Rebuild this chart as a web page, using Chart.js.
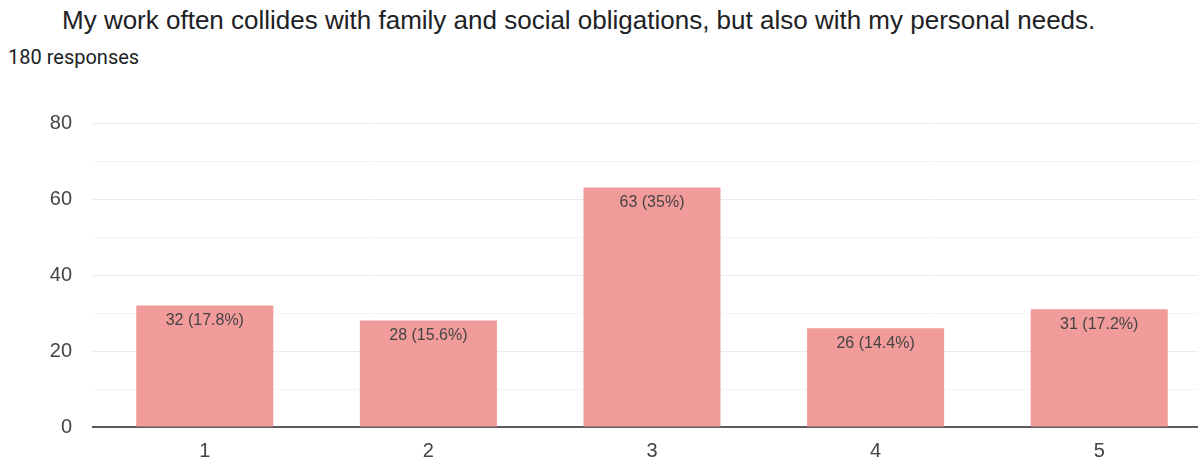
<!DOCTYPE html>
<html>
<head>
<meta charset="utf-8">
<script src="https://cdn.jsdelivr.net/npm/chart.js@4"></script>
<style>
  html, body { margin: 0; padding: 0; background: #fff; overflow: hidden; }
  .wrap { position: relative; width: 1198px; height: 463px; overflow: hidden; }
  #question {
    position: absolute; left: 62px; top: 7px; white-space: nowrap;
    font-family: "Liberation Sans", Arial, sans-serif; font-size: 26px; line-height: 26px;
    color: #202124;
  }
  #responses {
    position: absolute; left: 8px; top: 46px; white-space: nowrap;
    font-family: Roboto, "Liberation Sans", sans-serif; font-size: 20px; line-height: 22px;
    color: #202124;
  }
  #chartCanvas { position: absolute; left: 0; top: 0; }
</style>
</head>
<body>
<div class="wrap">
  <div id="question">My work often collides with family and social obligations, but also with my personal needs.</div>
  <div id="responses">180 responses</div>
  <canvas id="chartCanvas" width="1220" height="463"></canvas>
</div>
<script>
  // Answer options on the 1-5 scale and how many people picked each one
  const categories = ['1', '2', '3', '4', '5'];
  const counts = [32, 28, 63, 26, 31];
  const totalResponses = 180;
  const yTicks = [0, 20, 40, 60, 80];

  const barColor = '#f29b9b';
  const axisFont = { family: '"Liberation Sans", Arial, sans-serif', size: 20 };

  // "32 (17.8%)" style label, trailing .0 dropped
  function countLabel(v) {
    const pct = Math.round(v / totalResponses * 1000) / 10;
    return `${v} (${pct}%)`;
  }

  // Writes the count + share just under the top of each bar
  const barLabels = {
    id: 'barLabels',
    afterDatasetsDraw(chart) {
      const ctx = chart.ctx;
      const meta = chart.getDatasetMeta(0);
      ctx.save();
      ctx.font = '16px "Liberation Sans", Arial, sans-serif';
      ctx.fillStyle = '#444444';
      ctx.textAlign = 'center';
      ctx.textBaseline = 'middle';
      meta.data.forEach((bar, i) => {
        ctx.fillText(countLabel(counts[i]), bar.x, bar.y + 15);
      });
      ctx.restore();
    }
  };

  const canvas = document.getElementById('chartCanvas');
  new Chart(canvas.getContext('2d'), {
    type: 'bar',
    data: {
      labels: categories,
      datasets: [{
        data: counts,
        backgroundColor: barColor,
        borderWidth: 0,
        categoryPercentage: 1,
        barPercentage: 0.613
      }]
    },
    options: {
      responsive: false,
      animation: false,
      devicePixelRatio: 1,
      layout: { padding: { top: 123, right: 9, left: 0, bottom: 0 } },
      plugins: {
        legend: { display: false },
        tooltip: { enabled: false }
      },
      scales: {
        x: {
          grid: { display: false, drawTicks: false },
          border: { display: true, color: '#5a5a5a', width: 2 },
          ticks: { color: '#444444', font: axisFont, padding: 12 },
          afterFit(scale) { scale.height = 36; }
        },
        y: {
          min: yTicks[0],
          max: yTicks[yTicks.length - 1],
          ticks: {
            stepSize: 10,
            color: '#444444',
            font: axisFont,
            padding: 21,
            callback: v => yTicks.includes(v) ? v : ''
          },
          grid: {
            drawTicks: false,
            color: c => c.tick.value % 20 === 0 ? '#ebebeb' : '#f4f4f4',
            lineWidth: 1
          },
          border: { display: false },
          afterFit(scale) { scale.width = 93; }
        }
      }
    },
    plugins: [barLabels]
  });
</script>
</body>
</html>
